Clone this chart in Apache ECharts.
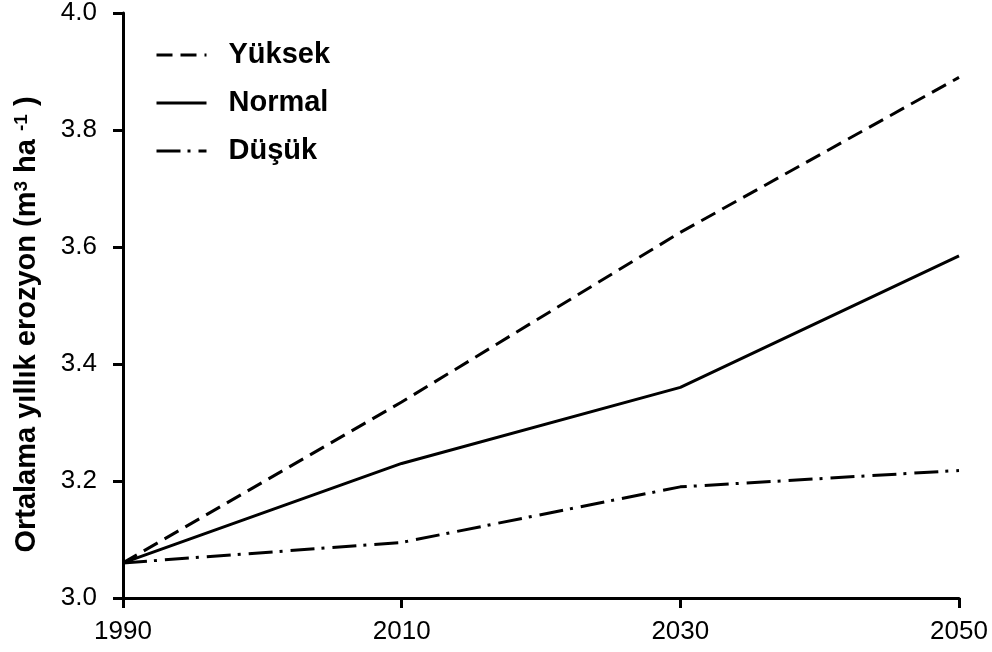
<!DOCTYPE html>
<html>
<head>
    <meta charset="utf-8">
    <title>Erozyon</title>
    <script src="https://cdn.jsdelivr.net/npm/echarts@6/dist/echarts.min.js"></script>
    <style>
        html, body { margin: 0; padding: 0; background: #fff; }
        #main { width: 992px; height: 652px; }
    </style>
</head>
<body>
<div id="main"></div>
<script>
// veriler
var years = ['1990', '2010', '2030', '2050'];
var yuksek = [3.06, 3.335, 3.625, 3.89];
var normal = [3.06, 3.23, 3.36, 3.585];
var dusuk = [3.06, 3.095, 3.19, 3.218];

var numFont = "'Liberation Sans', Arial, sans-serif";
var boldFont = "'Liberation Sans', Arial, sans-serif";

var chart = echarts.init(document.getElementById('main'));

var option = {
    animation: false,
    backgroundColor: '#fff',
    grid: {
        left: 123,
        right: 33,
        top: 13,
        bottom: 54,
        containLabel: false
    },
    legend: {
        orient: 'vertical',
        left: 150,
        top: 35,
        itemWidth: 50,
        itemHeight: 14,
        itemGap: 18,
        data: ['Yüksek', 'Normal', 'Düşük'],
        itemStyle: { opacity: 0 },
        lineStyle: { width: 3 },
        textStyle: {
            fontFamily: boldFont,
            fontWeight: 'bold',
            fontSize: 29,
            lineHeight: 30,
            color: '#000',
            padding: [0, 0, 0, 17]
        }
    },
    xAxis: {
        type: 'category',
        boundaryGap: false,
        data: years,
        axisLine: { lineStyle: { color: '#000', width: 3 } },
        axisTick: { alignWithLabel: true, length: 10, lineStyle: { color: '#000', width: 3 } },
        axisLabel: {
            margin: 21,
            color: '#000',
            fontFamily: numFont,
            fontSize: 26
        },
        splitLine: { show: false }
    },
    yAxis: {
        type: 'value',
        min: 3.0,
        max: 4.0,
        interval: 0.2,
        name: 'Ortalama yıllık erozyon (m{sup|3} ha {sup|-1} )',
        nameLocation: 'middle',
        nameGap: 82,
        nameRotate: 90,
        nameTextStyle: {
            fontFamily: boldFont,
            fontWeight: 'bold',
            fontSize: 29,
            color: '#000',
            padding: [0, 38, 0, 0],
            rich: {
                sup: {
                    fontFamily: boldFont,
                    fontWeight: 'bold',
                    fontSize: 19,
                    color: '#000',
                    verticalAlign: 'top'
                }
            }
        },
        axisLine: { show: true, lineStyle: { color: '#000', width: 3 } },
        axisTick: { show: true, length: 10, lineStyle: { color: '#000', width: 3 } },
        axisLabel: {
            margin: 26,
            color: '#000',
            fontFamily: numFont,
            fontSize: 26,
            formatter: function (v) { return v.toFixed(1); }
        },
        splitLine: { show: false }
    },
    series: [{
        name: 'Yüksek',
        type: 'line',
        symbol: 'none',
        data: yuksek,
        lineStyle: { color: '#000', width: 3, type: [16, 8] },
        itemStyle: { color: '#000' }
    }, {
        name: 'Normal',
        type: 'line',
        symbol: 'none',
        data: normal,
        lineStyle: { color: '#000', width: 3, type: 'solid' },
        itemStyle: { color: '#000' }
    }, {
        name: 'Düşük',
        type: 'line',
        symbol: 'none',
        data: dusuk,
        lineStyle: { color: '#000', width: 3, type: [24, 7, 3, 8] },
        itemStyle: { color: '#000' }
    }]
};
chart.setOption(option);
</script>
</body>
</html>
